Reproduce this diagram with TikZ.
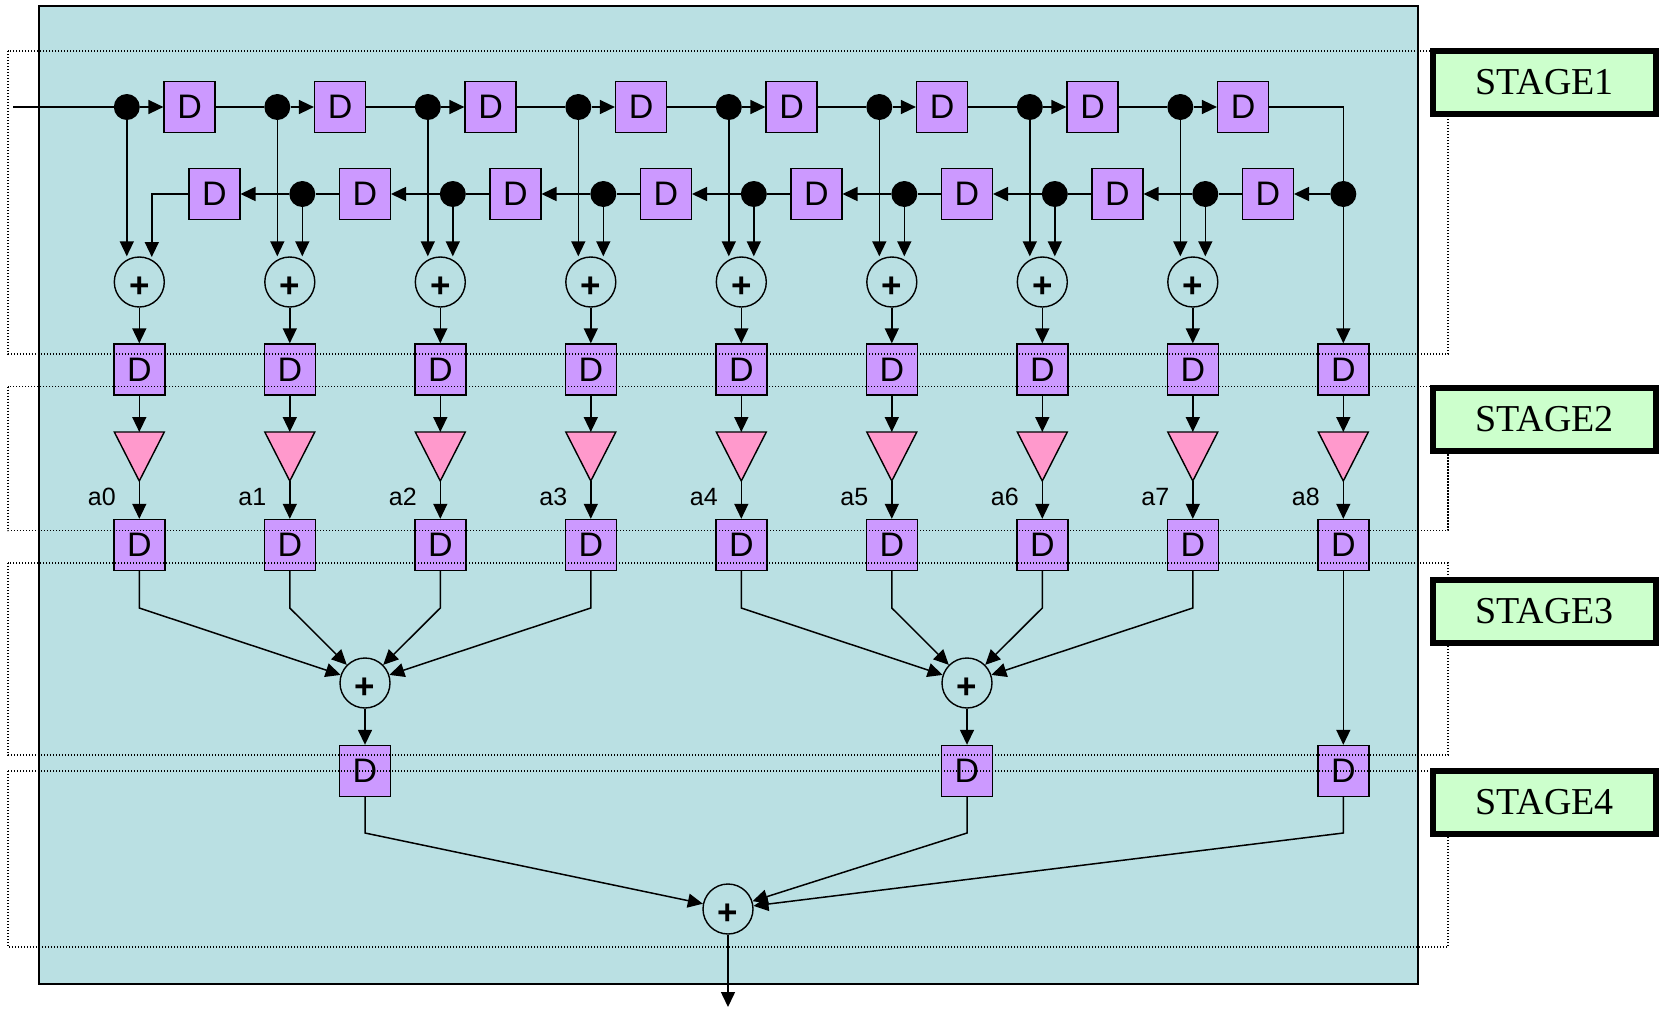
\documentclass[tikz,border=0pt]{standalone}
\usepackage{fontspec}
\setmainfont{Liberation Sans}
\newfontfamily\stagefont{Liberation Serif}
\usetikzlibrary{arrows.meta,calc}
\definecolor{tealbg}{RGB}{186,224,227}
\definecolor{dboxc}{RGB}{204,153,255}
\definecolor{pinkm}{RGB}{255,153,204}
\definecolor{stagegreen}{RGB}{204,255,204}
\begin{document}
\begin{tikzpicture}[x=1pt,y=-1pt,
  dbox/.style={draw=black, line width=1.4pt, fill=dboxc, minimum size=51pt, inner sep=0pt, font=\fontsize{34}{34}\selectfont},
  addnode/.style={circle, draw=black, line width=1.4pt, minimum size=50pt, inner sep=0pt, text height=31pt, text depth=0pt, font=\fontsize{35}{35}\selectfont\bfseries},
  dotn/.style={circle, fill=black, minimum size=26pt, inner sep=0pt},
  sig/.style={line width=1.5pt},
  arr/.style={sig, -{Triangle[length=15pt,width=14pt]}},
  stageframe/.style={line width=1.2pt, dash pattern=on 1.3pt off 1.7pt},
  stagebox/.style={draw=black, line width=6pt, fill=stagegreen, minimum width=223pt, minimum height=63pt, inner sep=0pt, font=\stagefont\fontsize{38}{38}\selectfont},
  coef/.style={inner sep=0pt, font=\fontsize{25}{25}\selectfont},
  mult/.style={draw=black, line width=1.4pt, fill=pinkm, line join=miter}
]
\useasboundingbox (0,0) rectangle (1667,1009);
% background panel
\fill[tealbg] (39,6) rectangle (1418,984);
\draw[line width=1.5pt] (39,6) rectangle (1418,984);

% ---- nodes ----
\coordinate (in) at (13,107);
\foreach \k in {1,...,8}{
  \pgfmathsetmacro\px{139.3+150.5*(\k-1)}
  \node[dotn] (t\k) at (\px-12.5,107) {};
  \node[dbox] (tD\k) at (\px+50.3,107) {D};
  \node[dbox] (bD\k) at (\px+75,194) {D};
  \node[addnode] (p\k) at (\px,282) {+};
}
\foreach \k in {2,...,8}{
  \pgfmathsetmacro\px{139.3+150.5*(\k-1)}
  \node[dotn] (b\k) at (\px+12.5,194) {};
}
\node[dotn] (b9) at (1343.3,194) {};
\coordinate (p1in) at (151.8,257);

\foreach \k in {1,...,9}{
  \pgfmathsetmacro\px{139.3+150.5*(\k-1)}
  \pgfmathtruncatemacro\idx{\k-1}
  \node[dbox] (sA\k) at (\px,369.5) {D};
  \draw[mult] (\px-25,432) -- (\px+25,432) -- (\px,481) -- cycle;
  \coordinate (mt\k) at (\px,432);
  \coordinate (mb\k) at (\px,481);
  \node[coef] (a\k) at (\px-37.5,497) {a\idx};
  \node[dbox] (sB\k) at (\px,545) {D};
}
\node[addnode] (qA) at (365,683) {+};
\node[addnode] (qB) at (967,683) {+};
\node[dbox] (sCA) at (365,771) {D};
\node[dbox] (sCB) at (967,771) {D};
\node[dbox] (sC9) at (1343.3,771) {D};
\node[addnode] (fin) at (728,909) {+};
\coordinate (out) at (728,1007);

% ---- connectors ----
\draw[sig] (in) -- (t1);
\foreach \k in {1,...,8}{
  \draw[arr] (t\k) -- (tD\k);
  \draw[arr] (t\k) -- (t\k |- p\k.north);
  \draw[arr] (p\k) -- (sA\k);
}
\foreach \k in {1,...,7}{
  \pgfmathtruncatemacro\kn{\k+1}
  \draw[sig] (tD\k) -- (t\kn);
}
\draw[sig] (tD8.east) -| (b9);
\draw[arr] (b9) -- (bD8);
\foreach \k in {2,...,8}{
  \pgfmathtruncatemacro\kp{\k-1}
  \draw[arr] (b\k) -- (bD\kp);
  \draw[sig] (bD\k) -- (b\k);
  \draw[arr] (b\k) -- (b\k |- p\k.north);
}
\draw[arr] (bD1.west) -| (p1in);
\draw[arr] (b9) -- (sA9);
\foreach \k in {1,...,9}{
  \draw[arr] (sA\k) -- (mt\k);
  \draw[arr] (mb\k) -- (sB\k);
}
\foreach \k in {1,...,4}{
  \pgfmathsetmacro\px{139.3+150.5*(\k-1)}
  \draw[arr] (sB\k.south) -- (\px,608) -- (qA);
}
\foreach \k in {5,...,8}{
  \pgfmathsetmacro\px{139.3+150.5*(\k-1)}
  \draw[arr] (sB\k.south) -- (\px,608) -- (qB);
}
\draw[arr] (sB9) -- (sC9);
\draw[arr] (qA) -- (sCA);
\draw[arr] (qB) -- (sCB);
\draw[arr] (sCA.south) -- (365,833) -- (fin);
\draw[arr] (sCB.south) -- (967,833) -- (fin);
\draw[arr] (sC9.south) -- (1343.3,833) -- (fin);
\draw[arr] (fin) -- (out);

% ---- stage frames ----
\draw[stageframe] (8,51) rectangle (1448,354);
\draw[stageframe] (8,386.5) rectangle (1448,530.5);
\draw[stageframe] (8,563) rectangle (1448,755);
\draw[stageframe] (8,771) rectangle (1448,947);

\node[stagebox] (st1) at (1544.5,82.5) {STAGE1};
\node[stagebox] (st2) at (1544.5,419) {STAGE2};
\node[stagebox] (st3) at (1544.5,611) {STAGE3};
\node[stagebox] (st4) at (1544.5,802.5) {STAGE4};
\end{tikzpicture}
\end{document}
